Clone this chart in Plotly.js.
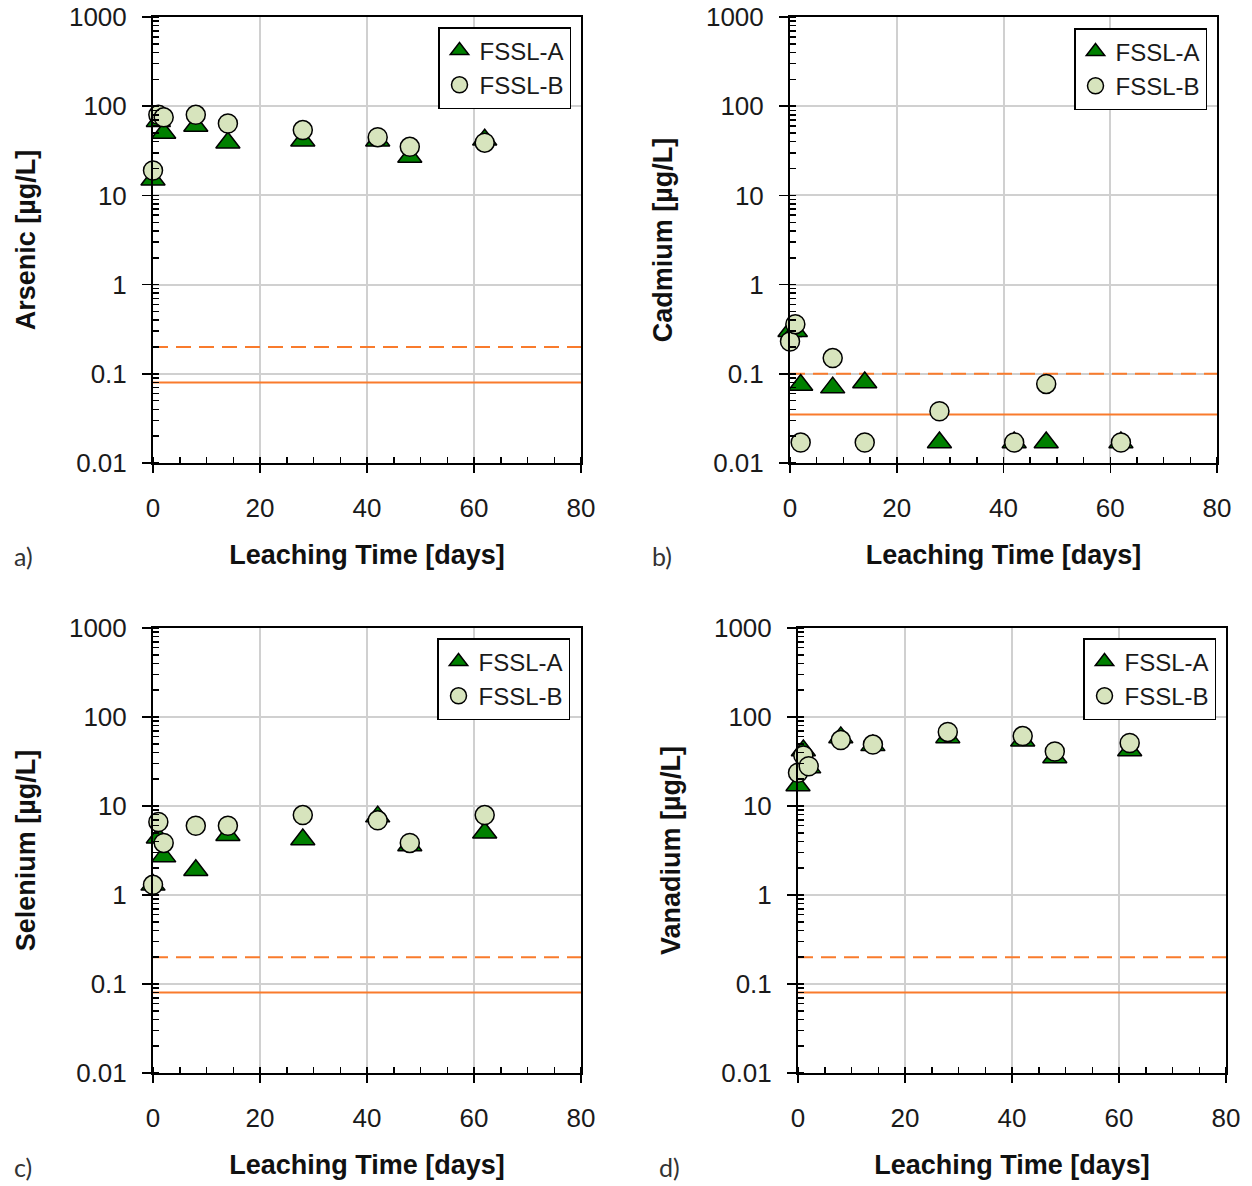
<!DOCTYPE html>
<html><head><meta charset="utf-8">
<script src="https://cdn.plot.ly/plotly-3.0.1.min.js"></script>
<style>html,body{margin:0;padding:0;background:#fff}</style>
</head><body><div id="chart" style="width:1252px;height:1186px"></div>
<script>
// ---- data ----
const days = [0, 1, 2, 8, 14, 28, 42, 48, 62];
const arsenicA = [15, 68, 50, 60, 39, 41, 41, 27, 42];
const arsenicB = [19, 80, 75, 80, 64, 54, 45, 35, 39];
const cadmiumA = [0.3, 0.3, 0.075, 0.07, 0.08, 0.017, 0.017, 0.017, 0.017];
const cadmiumB = [0.23, 0.36, 0.017, 0.15, 0.017, 0.038, 0.017, 0.077, 0.017];
const seleniumA = [1.3, 4.4, 2.7, 1.9, 4.7, 4.2, 7.6, 3.6, 5.0];
const seleniumB = [1.3, 6.6, 3.85, 6.0, 6.0, 7.9, 6.9, 3.85, 7.9];
const vanadiumA = [17, 42, 27, 59, 48, 59, 54, 35, 42];
const vanadiumB = [23.6, 37, 28, 55, 49, 68, 61, 41, 51];
const limitX = [0, 80];
const limitDashed = [0.2, 0.1, 0.2, 0.2];   // a, b, c, d
const limitSolid = [0.08, 0.035, 0.08, 0.08];
const elementNames = ['Arsenic', 'Cadmium', 'Selenium', 'Vanadium'];
const panelLetters = ['a)', 'b)', 'c)', 'd)'];
const seriesNames = ['FSSL-A', 'FSSL-B'];
const yTickVals = [0.01, 0.1, 1, 10, 100, 1000];
const yTickText = ['0.01', '0.1', '1', '10', '100', '1000'];
const xTickVals = [0, 20, 40, 60, 80];
const xTickText = ['0', '20', '40', '60', '80'];

// ---- layout geometry (pixels) ----
const W = 1252, H = 1186;
const boxes = [
  {x0: 153, x1: 581, y0: 17, y1: 463, leg: [571, 27], lab: [12, 556]},
  {x0: 790, x1: 1217, y0: 17, y1: 463, leg: [1207, 28], lab: [650, 556]},
  {x0: 153, x1: 581, y0: 628, y1: 1073, leg: [570, 638], lab: [12, 1167]},
  {x0: 798, x1: 1226, y0: 628, y1: 1073, leg: [1216, 638], lab: [657, 1167]}
];
const seriesA = [arsenicA, cadmiumA, seleniumA, vanadiumA];
const seriesB = [arsenicB, cadmiumB, seleniumB, vanadiumB];

const FONT = 'Liberation Sans, Arial, sans-serif';
const ORANGE = '#f97b2c';
const traces = [];
const layout = {
  width: W, height: H,
  margin: {l: 0, r: 0, t: 0, b: 0},
  paper_bgcolor: '#fff', plot_bgcolor: '#fff',
  font: {family: FONT, color: '#1a1a1a'},
  annotations: [],
  showlegend: true
};

boxes.forEach((b, i) => {
  const n = i + 1;
  const xa = 'x' + (n === 1 ? '' : n), ya = 'y' + (n === 1 ? '' : n);
  const legName = 'legend' + (n === 1 ? '' : n);
  // limit lines
  traces.push({x: limitX, y: [limitDashed[i], limitDashed[i]], xaxis: xa, yaxis: ya,
    mode: 'lines', line: {color: ORANGE, width: 2, dash: '15px,8px'}, showlegend: false, hoverinfo: 'skip'});
  traces.push({x: limitX, y: [limitSolid[i], limitSolid[i]], xaxis: xa, yaxis: ya,
    mode: 'lines', line: {color: ORANGE, width: 2}, showlegend: false, hoverinfo: 'skip'});
  // data
  traces.push({x: days, y: seriesA[i], xaxis: xa, yaxis: ya, mode: 'markers', name: seriesNames[0],
    legend: legName, cliponaxis: false,
    marker: {symbol: 'triangle-up', size: 21, color: '#008000', line: {color: '#000', width: 1.5}}});
  traces.push({x: days, y: seriesB[i], xaxis: xa, yaxis: ya, mode: 'markers', name: seriesNames[1],
    legend: legName, cliponaxis: false,
    marker: {symbol: 'circle', size: 19, color: '#d7e4bd', line: {color: '#000', width: 1.5}}});

  const common = {
    showline: true, linecolor: '#000', linewidth: 2, mirror: true,
    showgrid: true, gridcolor: '#d0d0d0', gridwidth: 2, zeroline: false,
    ticks: 'outside', tickcolor: '#000', tickwidth: 1.5,
    tickfont: {family: FONT, size: 26, color: '#1a1a1a'},
    automargin: false, fixedrange: true
  };
  layout['xaxis' + (n === 1 ? '' : n)] = Object.assign({}, common, {
    domain: [b.x0 / W, b.x1 / W], anchor: ya, type: 'linear', range: [0, 80],
    tickmode: 'array', tickvals: xTickVals, ticktext: xTickText, ticklen: 8,
    ticklabelstandoff: 13,
    minor: {dtick: 5, tick0: 0, ticks: 'inside', ticklen: 6, tickwidth: 1.5, tickcolor: '#000', showgrid: false},
    title: {text: 'Leaching Time [days]', font: {family: FONT, size: 27, weight: 'bold', color: '#111'}, standoff: 23}
  });
  layout['yaxis' + (n === 1 ? '' : n)] = Object.assign({}, common, {
    domain: [1 - b.y1 / H, 1 - b.y0 / H], anchor: xa, type: 'log', range: [-2, 3],
    tickmode: 'array', tickvals: yTickVals, ticktext: yTickText, ticklen: 9,
    ticklabelstandoff: 10,
    minor: {dtick: 'D1', ticks: 'inside', ticklen: 6, tickwidth: 1.5, tickcolor: '#000', showgrid: false},
    title: {text: elementNames[i] + ' [µg/L]', font: {family: FONT, size: 27, weight: 'bold', color: '#111'}, standoff: 26}
  });
  layout[legName] = {
    x: b.leg[0] / W, y: 1 - b.leg[1] / H, xanchor: 'right', yanchor: 'top', xref: 'paper', yref: 'paper',
    bgcolor: '#fff', bordercolor: '#000', borderwidth: 1.5,
    font: {family: FONT, size: 24, color: '#1a1a1a'}, itemwidth: 30
  };
  layout.annotations.push({xref: 'paper', yref: 'paper', x: b.lab[0] / W, y: 1 - b.lab[1] / H,
    xanchor: 'left', yanchor: 'middle', text: panelLetters[i], showarrow: false,
    font: {family: 'Lato, "Open Sans", sans-serif', size: 25, color: '#333'}});
});

Plotly.newPlot('chart', traces, layout, {displayModeBar: false, staticPlot: true});
</script>
</body></html>
